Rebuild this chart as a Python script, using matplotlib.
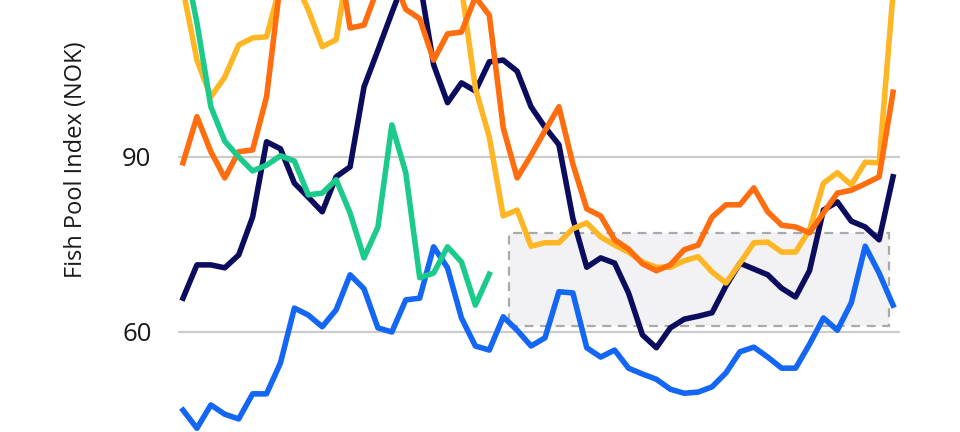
import matplotlib
matplotlib.use("Agg")
import matplotlib.pyplot as plt
from matplotlib.patches import Rectangle

weeks = list(range(1, 53))

navy = [65.8, 71.5, 71.5, 71.0, 73.2, 79.7, 92.6, 91.4, 85.5, 83.1,
        80.6, 86.6, 88.3, 102.0, 108.3, 114.7, 120.9, 120.2, 105.8, 99.3,
        102.7, 101.3, 106.3, 106.6, 104.7, 98.6, 95.1, 92.1, 79.5, 71.1,
        72.7, 71.8, 66.7, 59.5, 57.3, 60.7, 62.2, 62.7, 63.3, 67.9,
        71.8, 70.8, 69.8, 67.5, 66.0, 70.5, 80.9, 82.3, 79.0, 78.0,
        75.8, 86.6]

blue = [46.6, 43.5, 47.5, 45.9, 45.1, 49.4, 49.4, 54.7, 64.1, 62.9,
        60.9, 63.8, 69.8, 67.4, 60.7, 60.0, 65.5, 65.8, 74.6, 71.0,
        62.4, 57.6, 56.9, 62.6, 60.3, 57.6, 59.0, 66.9, 66.7, 57.3,
        55.7, 56.9, 53.8, 52.8, 51.9, 50.2, 49.5, 49.7, 50.6, 53.0,
        56.6, 57.4, 55.7, 53.8, 53.8, 57.9, 62.4, 60.3, 65.0, 74.7,
        70.1, 64.6]

green = [125.0, 113.0, 98.6, 92.7, 90.0, 87.6, 88.6, 90.2, 89.3, 83.5,
         83.8, 86.1, 80.4, 72.7, 78.0, 95.5, 87.3, 69.3, 70.1, 74.6,
         72.0, 64.6, 69.9]

orange = [89.0, 96.9, 90.9, 86.4, 90.9, 91.2, 100.3, 120.0, 124.0, 126.0,
          124.0, 127.0, 112.1, 112.6, 119.0, 121.0, 115.3, 113.7, 106.6, 111.1,
          111.4, 117.4, 114.3, 95.0, 86.4, 90.3, 94.5, 98.6, 88.8, 81.1,
          79.9, 75.8, 74.2, 71.7, 70.5, 71.5, 74.1, 74.9, 79.7, 81.8,
          81.8, 84.7, 80.6, 78.3, 78.0, 77.0, 80.4, 83.8, 84.3, 85.4,
          86.6, 101.1]

yellow = [118.7, 106.6, 100.3, 103.7, 109.2, 110.4, 110.6, 119.5, 120.5, 115.2,
          108.9, 110.1, 125.0, 127.0, 128.0, 127.0, 126.0, 125.0, 124.0, 122.0,
          119.0, 101.8, 93.4, 79.9, 80.9, 74.7, 75.3, 75.3, 77.7, 78.7,
          76.3, 74.9, 73.7, 72.0, 71.1, 71.1, 72.2, 72.9, 70.3, 68.4,
          71.8, 75.3, 75.4, 73.7, 73.7, 77.5, 85.5, 87.3, 85.2, 89.1,
          89.0, 118.0]

yticks = [60, 90]
ylabel = "Fish Pool Index (NOK)"

# highlighted band (week range / value range)
band_weeks = (24.4, 51.7)
band_values = (61.0, 77.0)

fig = plt.figure(figsize=(9.6, 4.32), dpi=100)
ax = fig.add_axes([178 / 960, 0.0, (900 - 178) / 960, 1.0])

ax.set_xlim(0.64, 52.5)
ax.set_ylim(42.86, 116.9)

for v in yticks:
    ax.axhline(v, color="#cccccc", lw=1.6, zorder=1)

rect = Rectangle((band_weeks[0], band_values[0]), band_weeks[1] - band_weeks[0],
                 band_values[1] - band_values[0], facecolor="#f2f2f4",
                 edgecolor="#aaaaaa", lw=1.6, linestyle=(0, (4, 3)), zorder=2)
ax.add_patch(rect)

lw = 4.0
ax.plot(weeks, blue, color="#1466f5", lw=lw, zorder=3)
ax.plot(weeks, navy, color="#0c0c5e", lw=lw, zorder=4)
ax.plot(weeks, yellow, color="#ffb624", lw=lw, zorder=5)
ax.plot(weeks, orange, color="#ff6d0f", lw=lw, zorder=6)
ax.plot(weeks[:len(green)], green, color="#1ccb8c", lw=lw, zorder=7)

for s in ax.spines.values():
    s.set_visible(False)
ax.set_xticks([])
ax.set_yticks(yticks)
ax.set_yticklabels([str(v) for v in yticks], fontsize=18.5, fontfamily="Open Sans", color="#1a1a1a")
ax.tick_params(axis="y", length=0, pad=19)
ax.patch.set_alpha(0)

fig.text(76 / 960, 1 - 160 / 432, ylabel, rotation=90, ha="center", va="center",
         fontsize=17, fontfamily="Open Sans", color="#1a1a1a")

fig.savefig("out.png", dpi=100, facecolor="white")
